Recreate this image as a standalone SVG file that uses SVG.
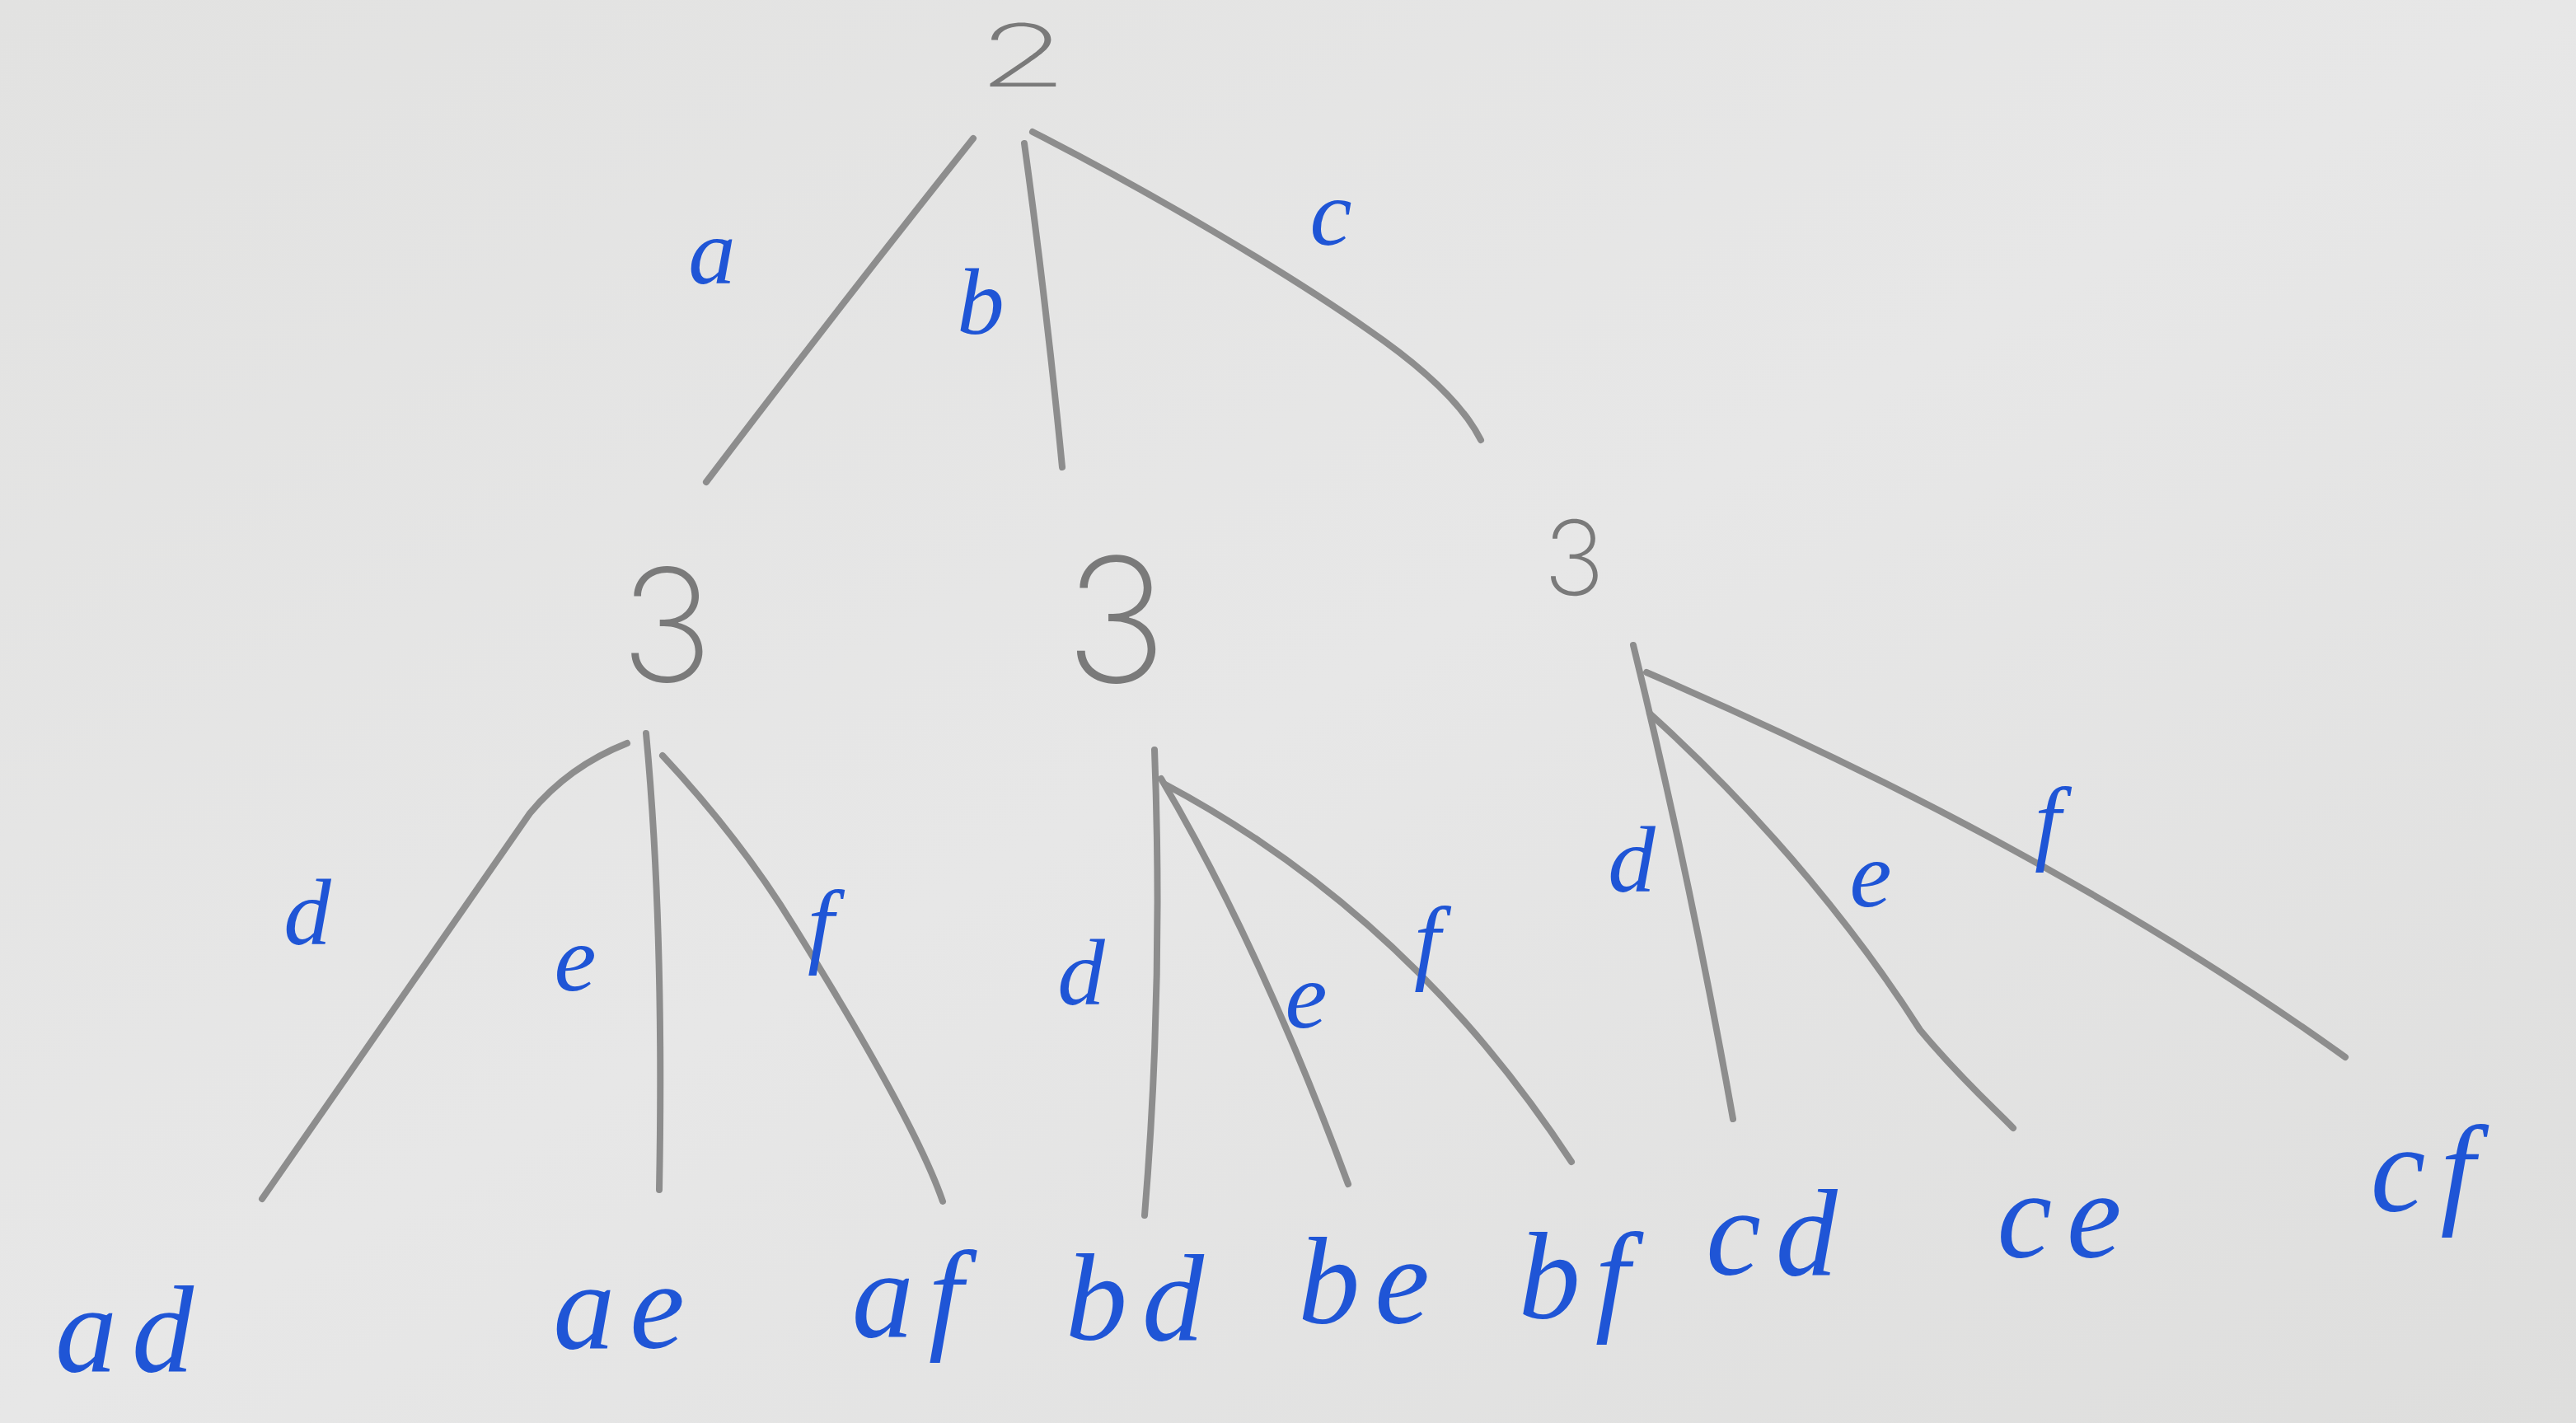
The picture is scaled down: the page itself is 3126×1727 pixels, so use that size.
<svg xmlns="http://www.w3.org/2000/svg" width="3126" height="1727" viewBox="0 0 3126 1727">
<defs>
<linearGradient id="bg" x1="0" y1="0" x2="1" y2="1">
<stop offset="0" stop-color="#e2e2e1"/>
<stop offset="0.5" stop-color="#e7e7e7"/>
<stop offset="1" stop-color="#dededd"/>
</linearGradient>
<style>
.edge{fill:none;stroke:#8d8d8d;stroke-width:8;stroke-linecap:round;stroke-linejoin:round}
.lbl{font-family:"Liberation Serif","DejaVu Serif",serif;font-style:italic;fill:#1f55d6;text-anchor:middle}
.e{font-size:115px}
.leaf{font-size:150px;letter-spacing:18px}
.num{font-family:Inter,"Open Sans","Liberation Sans",sans-serif;font-weight:200;fill:#7a7a7a;text-anchor:middle}
</style>
</defs>
<rect width="3126" height="1727" fill="url(#bg)"/>
<g id="connectors">
<path class="edge" d="M1181,168 Q1020,370 857,585"/>
<path class="edge" d="M1243,174 Q1270,370 1289,567"/>
<path class="edge" d="M1253,160 C1400,235 1560,330 1660,400 C1740,455 1780,500 1797,534"/>
<path class="edge" d="M761,902 Q690,930 643,987 L318,1455"/>
<path class="edge" d="M784,890 Q806,1125 800,1444"/>
<path class="edge" d="M804,917 Q900,1020 964,1125 Q1110,1360 1144,1458"/>
<path class="edge" d="M1401,910 Q1412,1195 1389,1475"/>
<path class="edge" d="M1409,945 Q1530,1150 1636,1437"/>
<path class="edge" d="M1414,952 Q1710,1110 1907,1410"/>
<path class="edge" d="M1982,783 Q2050,1060 2103,1358"/>
<path class="edge" d="M2002,866 C2150,1000 2260,1140 2330,1250 C2380,1310 2420,1345 2443,1369"/>
<path class="edge" d="M1998,816 Q2494,1030 2846,1283"/>
</g>
<g id="edge-labels">
<text class="lbl e" x="864" y="344">a</text>
<text class="lbl e" x="1190" y="405">b</text>
<text class="lbl e" x="1615" y="297">c</text>
<text class="lbl e" x="373" y="1146">d</text>
<text class="lbl e" x="698" y="1202">e</text>
<text class="lbl e" x="996" y="1160">f</text>
<text class="lbl e" x="1312" y="1219">d</text>
<text class="lbl e" x="1585" y="1247">e</text>
<text class="lbl e" x="1732" y="1180">f</text>
<text class="lbl e" x="1980" y="1082">d</text>
<text class="lbl e" x="2270" y="1100">e</text>
<text class="lbl e" x="2485" y="1035">f</text>
</g>
<g id="node-root"><text class="num" x="0" y="0" font-size="105" transform="translate(1241,105) scale(1.7,1)">2</text></g>
<g id="node-a"><text class="num" x="809" y="827" font-size="190">3</text></g>
<g id="node-b"><text class="num" x="1354" y="828" font-size="210">3</text></g>
<g id="node-c"><text class="num" x="1910" y="722" font-size="125">3</text></g>
<g id="leaf-ad"><text class="lbl leaf" x="160" y="1664">ad</text></g>
<g id="leaf-ae"><text class="lbl leaf" x="760" y="1636">ae</text></g>
<g id="leaf-af"><text class="lbl leaf" x="1110" y="1622">af</text></g>
<g id="leaf-bd"><text class="lbl leaf" x="1386" y="1626">bd</text></g>
<g id="leaf-be"><text class="lbl leaf" x="1664" y="1606">be</text></g>
<g id="leaf-bf"><text class="lbl leaf" x="1919" y="1600">bf</text></g>
<g id="leaf-cd"><text class="lbl leaf" x="2159" y="1547">cd</text></g>
<g id="leaf-ce"><text class="lbl leaf" x="2508" y="1526">ce</text></g>
<g id="leaf-cf"><text class="lbl leaf" x="2949" y="1470">cf</text></g>
</svg>
